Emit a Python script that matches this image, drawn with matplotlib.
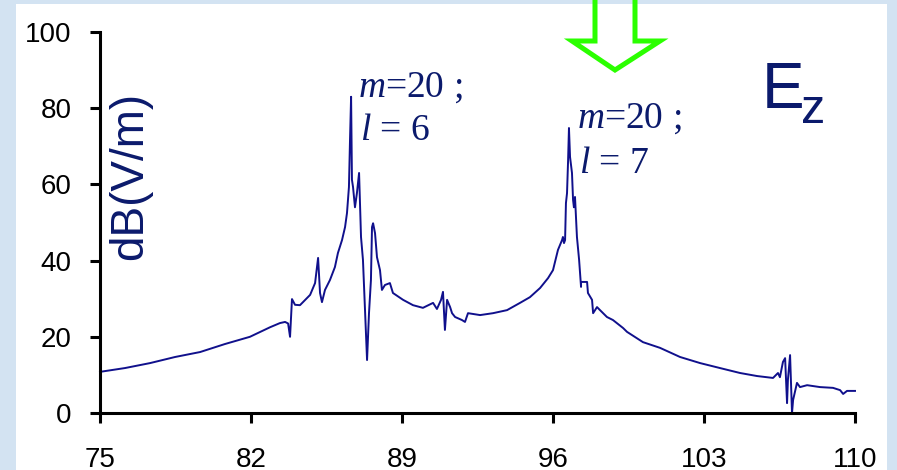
import matplotlib
matplotlib.use("Agg")
import matplotlib.pyplot as plt
from matplotlib.patches import Rectangle, Polygon

plt.rcParams["mathtext.fontset"] = "custom"
plt.rcParams["mathtext.rm"] = "Liberation Serif"
plt.rcParams["mathtext.it"] = "Liberation Serif:italic"

# Frequency sweep (x) and measured field level in dB(V/m)
freq = [75.00, 76.16, 77.32, 78.48, 79.64, 80.79, 81.95, 82.88, 83.34, 83.58,
        83.72, 83.81, 83.90, 84.04, 84.27, 84.41, 84.74, 84.97, 85.11, 85.20,
        85.29, 85.43, 85.66, 85.89, 86.03, 86.22, 86.36, 86.45, 86.54, 86.59,
        86.64, 86.68, 86.73, 86.82, 86.91, 87.01, 87.10, 87.19, 87.38, 87.47,
        87.56, 87.61, 87.66, 87.75, 87.84, 87.98, 88.07, 88.21, 88.44, 88.58,
        89.05, 89.51, 89.97, 90.44, 90.62, 90.81, 90.90, 90.99, 91.09, 91.23,
        91.32, 91.46, 91.78, 91.92, 92.06, 92.62, 93.22, 93.87, 94.47, 94.93,
        95.40, 95.77, 96.00, 96.23, 96.42, 96.46, 96.51, 96.56, 96.60, 96.65,
        96.70, 96.74, 96.79, 96.88, 96.93, 96.97, 97.02, 97.11, 97.21, 97.30,
        97.30, 97.58, 97.62, 97.81, 97.86, 98.04, 98.18, 98.50, 98.78, 99.25,
        99.43, 100.17, 100.96, 101.89, 102.82, 103.74, 104.67, 105.46, 106.20, 106.43,
        106.52, 106.66, 106.76, 106.85, 106.89, 106.99, 107.08, 107.13, 107.31, 107.45,
        107.78, 108.38, 108.98, 109.31, 109.45, 109.63, 110.00]
level = [10.8, 11.8, 13.1, 14.7, 16.0, 18.1, 20.0, 22.5, 23.6, 23.9,
         23.5, 20.0, 29.9, 28.4, 28.3, 29.1, 31.0, 34.1, 40.7, 31.5,
         29.1, 32.3, 34.9, 38.3, 42.0, 45.4, 48.8, 52.5, 59.3, 71.7,
         83.0, 61.2, 59.3, 54.0, 57.7, 63.0, 46.2, 40.2, 13.9, 26.2,
         34.9, 48.8, 49.8, 47.2, 40.9, 37.5, 32.3, 33.6, 34.1, 31.5,
         29.7, 28.3, 27.6, 28.9, 27.3, 29.7, 31.8, 21.8, 29.7, 27.8,
         26.2, 25.2, 24.4, 23.9, 26.2, 25.7, 26.2, 27.0, 28.9, 30.4,
         32.8, 35.4, 37.5, 42.8, 45.4, 46.2, 44.6, 45.4, 55.1, 57.7,
         66.4, 74.8, 67.2, 63.0, 55.9, 54.0, 56.7, 46.2, 40.2, 33.1,
         34.4, 34.4, 31.5, 29.7, 26.2, 27.8, 27.0, 25.2, 24.4, 22.3,
         21.3, 18.6, 17.1, 14.7, 13.1, 11.8, 10.5, 9.7, 9.2, 10.5,
         9.4, 13.4, 14.4, 2.6, 8.7, 15.2, 0.0, 3.4, 7.9, 6.8,
         7.3, 6.8, 6.6, 6.0, 5.0, 5.8, 5.8]

xticks = [75, 82, 89, 96, 103, 110]
yticks = [0, 20, 40, 60, 80, 100]

NAVY = "#0b1a6c"
LINE = "#10108c"

W, H = 897, 470
fig = plt.figure(figsize=(W / 100, H / 100), dpi=100)
fig.patch.set_facecolor("#d3e3f2")

def fx(px):
    return px / W

def fy(py):
    return 1 - py / H

# white panel behind the chart
fig.patches.append(Rectangle((fx(16), 0), fx(887) - fx(16), fy(4),
                             transform=fig.transFigure, facecolor="white",
                             edgecolor="none", zorder=-10))

ax = fig.add_axes([fx(100), fy(413), fx(855) - fx(100), fy(32) - fy(413)])
ax.set_zorder(1)
ax.set_facecolor("none")
ax.plot(freq, level, color=LINE, lw=1.4, clip_on=False)
ax.set_xlim(75, 110)
ax.set_ylim(0, 100)
ax.set_xticks(xticks)
ax.set_yticks(yticks)
ax.set_xticklabels([str(t) for t in xticks])
ax.set_yticklabels([str(t) for t in yticks])
for s in ("top", "right"):
    ax.spines[s].set_visible(False)
for s in ("left", "bottom"):
    ax.spines[s].set_linewidth(2.2)
    ax.spines[s].set_color("black")
ax.tick_params(axis="both", direction="out", length=7.5, width=2.2,
               labelsize=20, colors="black")
ax.tick_params(axis="y", pad=13)
ax.tick_params(axis="x", pad=17)
for lab in ax.get_xticklabels() + ax.get_yticklabels():
    lab.set_fontfamily("Liberation Sans")

fig.text(fx(130), fy(176), "dB(V/m)", rotation=90, ha="center", va="center",
         fontsize=33, color=NAVY, family="Liberation Sans")

fig.text(fx(762), fy(108), "E", fontsize=46, color=NAVY,
         family="Liberation Sans", ha="left", va="baseline")
fig.text(fx(801), fy(123), "z", fontsize=35, color=NAVY,
         family="Liberation Sans", ha="left", va="baseline")

serif = dict(fontsize=27, color=NAVY, family="Liberation Serif",
             ha="left", va="baseline")
fig.text(fx(358), fy(97), r"$m$=20 ;", **serif)
fig.text(fx(360), fy(140), r"$l$ = 6", **serif)
fig.text(fx(577), fy(128), r"$m$=20 ;", **serif)
fig.text(fx(579), fy(173), r"$l$ = 7", **serif)

# hollow green arrow pointing at the second resonance
arrow_px = [(595, -6), (595, 41), (572, 41), (615, 70), (660, 41), (635, 41), (635, -6)]
fig.patches.append(Polygon([(fx(x), fy(y)) for x, y in arrow_px], closed=False,
                           transform=fig.transFigure, fill=False,
                           edgecolor="#2bff00", linewidth=3.6, joinstyle="miter",
                           zorder=5))

fig.savefig("out.png", dpi=100, facecolor=fig.get_facecolor())
